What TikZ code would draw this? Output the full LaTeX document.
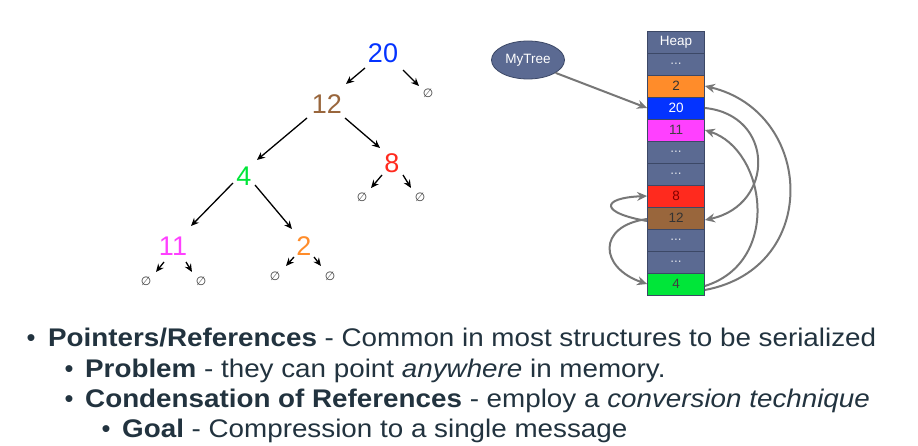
\documentclass[tikz,border=0pt]{standalone}
\usepackage{fontspec}
\setmainfont{Liberation Sans}
\newfontfamily\symfont{DejaVu Sans}
\usetikzlibrary{arrows.meta,shapes.geometric}
\definecolor{slate}{HTML}{5B6A92}
\definecolor{slateedge}{HTML}{3C4866}
\definecolor{txt}{HTML}{22333F}
\definecolor{curvegray}{HTML}{777777}
\definecolor{cblue}{HTML}{0433FF}
\definecolor{cbrown}{HTML}{99663C}
\definecolor{cgreen}{HTML}{00E639}
\definecolor{cred}{HTML}{FF2A1E}
\definecolor{cmag}{HTML}{FF40FF}
\definecolor{corange}{HTML}{FF8C2A}
\tikzset{
  treenum/.style={font=\fontsize{27}{27}\selectfont, inner sep=0pt},
  nullsym/.style={font=\symfont\fontsize{12}{12}\selectfont, text=black!75, inner sep=0pt},
  tarrow/.style={draw=black, line width=1.3pt, -{Stealth[length=8pt,width=7pt]}},
  cell/.style={draw=slateedge, line width=0.8pt, minimum width=57pt, minimum height=22pt, inner sep=0pt, fill=slate, font=\fontsize{13.5}{13.5}\selectfont},
  dots/.style={cell, text=white!80!slate},
  harrow/.style={draw=curvegray, line width=2pt, -{Stealth[length=10pt,width=9pt]}},
  bline/.style={anchor=base west, inner sep=0pt, text=txt, font=\fontsize{25.5}{26}\selectfont},
  bul/.style={anchor=base, inner sep=0pt, text=txt, font=\fontsize{25.5}{26}\selectfont},
}
\begin{document}
\begin{tikzpicture}[x=1pt,y=-1pt]
\path[fill=white] (0,0) rectangle (918,446);
\useasboundingbox (0,0) rectangle (918,446);
% tree
\node[treenum, text=cblue] (n20) at (383,53) {20};
\node[treenum, text=cbrown] (n12) at (327,104) {12};
\node[treenum, text=cgreen] (n4) at (244,176) {4};
\node[treenum, text=cred] (n8) at (392,163) {8};
\node[treenum, text=cmag] (n11) at (173,246) {11};
\node[treenum, text=corange] (n2) at (304,246) {2};
\node[nullsym] (z20) at (428,93) {∅};
\node[nullsym] (z8a) at (362,197) {∅};
\node[nullsym] (z8b) at (420,197) {∅};
\node[nullsym] (z11a) at (146,281) {∅};
\node[nullsym] (z11b) at (201,281) {∅};
\node[nullsym] (z2a) at (275,276) {∅};
\node[nullsym] (z2b) at (330,276) {∅};
\coordinate (a20l) at (365,68); \coordinate (a20r) at (403,70);
\draw[tarrow] (a20l) -- (346,84);
\draw[tarrow] (a20r) -- (419,86);
\draw[tarrow] (307,118) -- (257,160);
\draw[tarrow] (345,118) -- (380,148);
\draw[tarrow] (382,175) -- (371,188);
\draw[tarrow] (403,175) -- (411,188);
\draw[tarrow] (233,183) -- (191,226);
\draw[tarrow] (255,185) -- (292,229);
\draw[tarrow] (164,262) -- (156,272);
\draw[tarrow] (186,262) -- (192,272);
\draw[tarrow] (294,257) -- (286,266);
\draw[tarrow] (314,257) -- (321,266);
% heap
\node[cell, text=white] (hHeap) at (676,42) {Heap};
\node[dots] (hd1) at (676,64) {...};
\node[cell, fill=corange, text=black!80] (h2) at (676,86) {2};
\node[cell, fill=cblue, text=white] (h20) at (676,108) {20};
\node[cell, fill=cmag, text=black!75] (h11) at (676,130) {11};
\node[dots] (hd2) at (676,152) {...};
\node[dots] (hd3) at (676,174) {...};
\node[cell, fill=cred, text=red!50!black] (h8) at (676,196) {8};
\node[cell, fill=cbrown, text=black!80] (h12) at (676,218) {12};
\node[dots] (hd4) at (676,240) {...};
\node[dots] (hd5) at (676,262) {...};
\node[cell, fill=cgreen, text=black!75] (h4) at (676,284) {4};
% MyTree
\node[ellipse, draw=slateedge, line width=0.8pt, fill=slate, minimum width=73pt, minimum height=38pt, inner sep=0pt, text=white, font=\fontsize{13.5}{13.5}\selectfont] (mytree) at (528,60) {MyTree};
\draw[harrow] (mytree.-25) -- (h20.west);
% heap curves
\draw[harrow] ([yshift=-3pt]h12.west) .. controls (600,213) and (600,198) .. (h8.west);
\draw[harrow] ([yshift=-1pt]h12.west) .. controls (596,226) and (600,268) .. (h4.west);
\draw[harrow] (h20.east) .. controls (775,115) and (775,205) .. ([yshift=-2pt]h12.east);
\draw[harrow] ([yshift=-2pt]h4.east) .. controls (782,262) and (766,150) .. (h11.east);
\draw[harrow] ([yshift=-6pt]h4.east) .. controls (822,268) and (814,112) .. (h2.east);
% bullets
\node[bul] (b1) at (31,346) {•};
\node[bline] (t1) at (48,346) {\scalebox{1.09}[1]{\textbf{Pointers/References} - Common in most structures to be serialized}};
\node[bul] (b2) at (69,377) {•};
\node[bline] (t2) at (85,377) {\scalebox{1.09}[1]{\textbf{Problem} - they can point \textit{anywhere} in memory.}};
\node[bul] (b3) at (69,407) {•};
\node[bline] (t3) at (85,407) {\scalebox{1.09}[1]{\textbf{Condensation of References} - employ a \textit{conversion technique}}};
\node[bul] (b4) at (106,437) {•};
\node[bline] (t4) at (122,437) {\scalebox{1.09}[1]{\textbf{Goal} - Compression to a single message}};
\end{tikzpicture}
\end{document}
